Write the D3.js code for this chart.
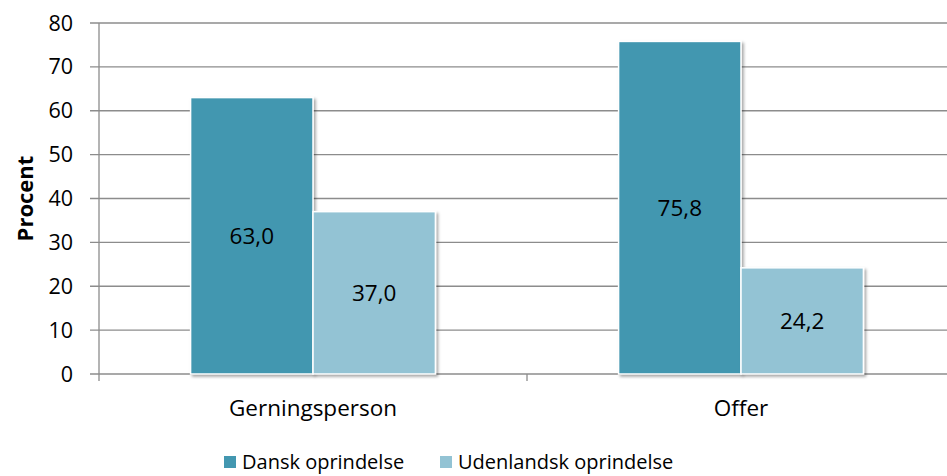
<!DOCTYPE html>
<html>
<head>
<meta charset="utf-8">
<script src="https://cdn.jsdelivr.net/npm/d3@7"></script>
<style>
  body { margin: 0; background: #fff; }
  svg { display: block; font-family: "Open Sans", sans-serif; }
</style>
</head>
<body>
<script>
const categories = ["Gerningsperson", "Offer"];
const seriesNames = ["Dansk oprindelse", "Udenlandsk oprindelse"];
const dansk = [63.0, 75.8];
const udenlandsk = [37.0, 24.2];
const yTicks = [0, 10, 20, 30, 40, 50, 60, 70, 80];
const colors = ["#4397b0", "#93c3d4"];

const W = 947, H = 476;
const margin = {top: 23, right: -8, bottom: 102, left: 99};
const width = W - margin.left - margin.right;
const height = H - margin.top - margin.bottom;

const svg = d3.select("body").append("svg")
  .attr("width", W).attr("height", H);

const defs = svg.append("defs");
const f = defs.append("filter").attr("id", "shadow")
  .attr("x", "-10%").attr("y", "-10%").attr("width", "130%").attr("height", "130%");
f.append("feDropShadow").attr("dx", 2).attr("dy", 2).attr("stdDeviation", 1.5)
  .attr("flood-color", "#000").attr("flood-opacity", 0.35);

const g = svg.append("g").attr("transform", `translate(${margin.left},${margin.top})`);

const x = d3.scaleBand().domain(categories).range([0, width]);
const xSub = d3.scaleBand().domain(seriesNames)
  .range([x.bandwidth() * 0.214, x.bandwidth() * 0.786]).paddingInner(0.0);
const y = d3.scaleLinear().domain([0, 80]).range([height, 0]);

// gridlines
g.append("g").selectAll("line").data(yTicks).join("line")
  .attr("x1", -9).attr("x2", width)
  .attr("y1", d => y(d)).attr("y2", d => y(d))
  .attr("stroke", "#8c8c8c").attr("stroke-width", 1.3);

// y axis line
g.append("line").attr("x1", 0).attr("x2", 0).attr("y1", 0).attr("y2", height + 7)
  .attr("stroke", "#8c8c8c").attr("stroke-width", 1.3);

// category ticks
g.append("g").selectAll("line").data([x.bandwidth()]).join("line")
  .attr("x1", d => d).attr("x2", d => d).attr("y1", height).attr("y2", height + 7)
  .attr("stroke", "#8c8c8c").attr("stroke-width", 1.3);

// y tick labels
g.append("g").selectAll("text").data(yTicks).join("text")
  .attr("x", -26).attr("y", d => y(d)).attr("dy", "0.35em")
  .attr("text-anchor", "end").attr("font-size", 21.5).attr("fill", "#000")
  .text(d => d);

// y title
svg.append("text")
  .attr("transform", `translate(33,${margin.top + y(40)}) rotate(-90)`)
  .attr("text-anchor", "middle").attr("font-size", 22).attr("font-weight", "bold")
  .text("Procent");

// bars
const rows = categories.map((c, i) => ({cat: c, vals: [dansk[i], udenlandsk[i]]}));
const groups = g.append("g").selectAll("g").data(rows).join("g")
  .attr("transform", d => `translate(${x(d.cat)},0)`);

const bars = groups.selectAll("g").data(d => d.vals.map((v, j) => ({key: seriesNames[j], value: v, j})))
  .join("g");

bars.append("rect")
  .attr("x", d => xSub(d.key)).attr("y", d => y(d.value))
  .attr("width", xSub.bandwidth()).attr("height", d => height - y(d.value))
  .attr("fill", d => colors[d.j]).attr("stroke", "#fff").attr("stroke-width", 1.5)
  .attr("filter", "url(#shadow)");

bars.append("text")
  .attr("x", d => xSub(d.key) + xSub.bandwidth() / 2)
  .attr("y", d => y(d.value / 2)).attr("dy", "0.35em")
  .attr("text-anchor", "middle").attr("font-size", 22.5).attr("fill", "#000")
  .text(d => d3.format(".1f")(d.value).replace(".", ","));

// category labels
g.append("g").selectAll("text").data(categories).join("text")
  .attr("x", d => x(d) + x.bandwidth() / 2).attr("y", height + 34)
  .attr("dy", "0.35em").attr("text-anchor", "middle").attr("font-size", 22.5)
  .text(d => d);

// legend
const legendX = [224, 440];
const leg = svg.append("g").selectAll("g").data(seriesNames).join("g")
  .attr("transform", (d, i) => `translate(${legendX[i]},456)`);
leg.append("rect").attr("width", 12).attr("height", 12)
  .attr("fill", (d, i) => colors[i]);
leg.append("text").attr("x", 18).attr("y", 6).attr("dy", "0.35em")
  .attr("font-size", 20).text(d => d);
</script>
</body>
</html>
